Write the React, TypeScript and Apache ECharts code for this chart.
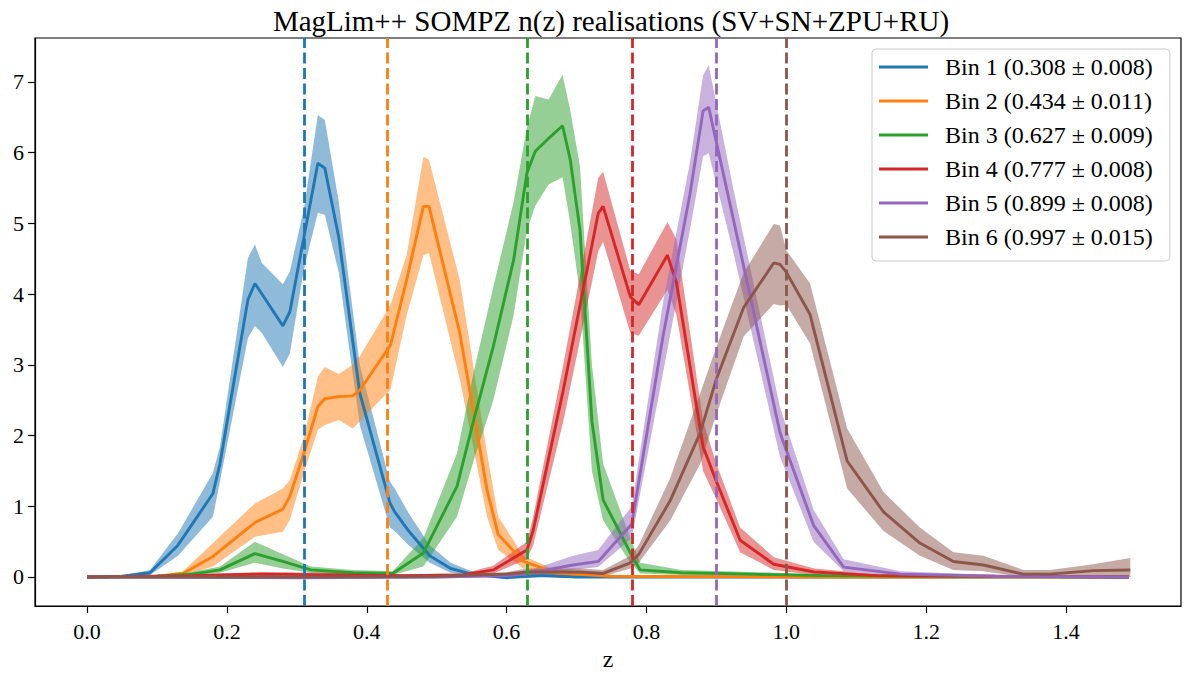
import React, { useEffect, useRef } from "react";
import * as echarts from "echarts";

const FONT = "'Liberation Serif', 'DejaVu Serif', serif";
const TITLE = "MagLim++ SOMPZ n(z) realisations (SV+SN+ZPU+RU)";

const binColors = ["#1f77b4", "#ff7f0e", "#2ca02c", "#d62728", "#9467bd", "#8c564b"];
const binMeans = [0.308, 0.434, 0.627, 0.777, 0.899, 0.997];
const binErrs = [0.008, 0.011, 0.009, 0.008, 0.008, 0.015];

const xTicks = [0, 0.2, 0.4, 0.6, 0.8, 1.0, 1.2, 1.4];
const yTicks = [0, 1, 2, 3, 4, 5, 6, 7];

// Bin 1
const bin1Z = [0, 0.05, 0.09, 0.13, 0.18, 0.19, 0.23, 0.24, 0.25, 0.28, 0.29, 0.31, 0.33, 0.34, 0.36, 0.39, 0.433, 0.44, 0.46, 0.49, 0.52, 0.55, 0.60, 0.65, 0.70, 1.00, 1.49];
const bin1Mean = [0, 0.01, 0.06, 0.45, 1.18, 1.60, 3.92, 4.15, 4.00, 3.55, 3.75, 4.80, 5.85, 5.78, 4.80, 2.60, 1.05, 0.92, 0.65, 0.30, 0.12, 0.04, -0.01, 0.02, 0.00, 0.00, 0.00];
const bin1Hi = [0, 0.02, 0.10, 0.62, 1.47, 1.84, 4.51, 4.70, 4.44, 4.14, 4.32, 5.20, 6.53, 6.46, 5.30, 3.00, 1.35, 1.25, 0.90, 0.45, 0.20, 0.08, 0.03, 0.05, 0.02, 0.01, 0.01];
const bin1Lo = [0, 0.00, 0.03, 0.30, 0.85, 1.35, 3.38, 3.55, 3.45, 2.97, 3.16, 4.35, 5.15, 5.12, 4.30, 2.15, 0.70, 0.65, 0.45, 0.20, 0.06, 0.01, -0.02, 0.00, -0.01, -0.01, -0.01];

// Bin 2
const bin2Z = [0, 0.10, 0.137, 0.18, 0.24, 0.28, 0.29, 0.31, 0.33, 0.34, 0.36, 0.38, 0.39, 0.434, 0.457, 0.481, 0.489, 0.533, 0.572, 0.588, 0.624, 0.67, 0.75, 1.00, 1.49];
const bin2Mean = [0, 0.01, 0.05, 0.29, 0.77, 0.96, 1.14, 1.75, 2.41, 2.52, 2.55, 2.56, 2.64, 3.28, 4.20, 5.24, 5.24, 3.45, 1.23, 0.60, 0.22, 0.06, 0.01, 0.00, 0.00];
const bin2Hi = [0, 0.02, 0.08, 0.48, 1.04, 1.25, 1.37, 1.98, 2.83, 2.97, 2.87, 3.00, 3.12, 3.85, 4.55, 5.94, 5.90, 4.20, 1.75, 0.85, 0.30, 0.10, 0.03, 0.01, 0.01];
const bin2Lo = [0, 0.00, 0.02, 0.15, 0.57, 0.64, 0.81, 1.47, 2.08, 2.15, 2.22, 2.10, 2.20, 2.65, 3.70, 4.55, 4.58, 2.80, 0.85, 0.38, 0.12, 0.02, 0.00, -0.01, -0.01];

// Bin 3
const bin3Z = [0, 0.10, 0.15, 0.19, 0.24, 0.28, 0.32, 0.38, 0.437, 0.481, 0.529, 0.553, 0.581, 0.61, 0.629, 0.641, 0.66, 0.68, 0.691, 0.705, 0.722, 0.738, 0.777, 0.791, 0.85, 0.95, 1.05, 1.20, 1.49];
const bin3Mean = [0, 0.01, 0.04, 0.10, 0.33, 0.22, 0.10, 0.06, 0.05, 0.34, 1.28, 2.22, 3.26, 4.48, 5.71, 6.02, 6.20, 6.38, 5.90, 4.90, 2.20, 1.09, 0.34, 0.10, 0.06, 0.04, 0.02, 0.01, 0.00];
const bin3Hi = [0, 0.02, 0.07, 0.15, 0.50, 0.32, 0.15, 0.10, 0.08, 0.55, 1.75, 2.90, 4.10, 5.30, 6.35, 6.80, 6.75, 7.10, 6.60, 5.80, 3.00, 1.60, 0.55, 0.20, 0.10, 0.07, 0.04, 0.02, 0.01];
const bin3Lo = [0, 0.00, 0.02, 0.06, 0.20, 0.12, 0.06, 0.03, 0.03, 0.15, 0.85, 1.65, 2.50, 3.70, 4.90, 5.25, 5.55, 5.65, 5.00, 4.00, 1.50, 0.80, 0.20, 0.05, 0.03, 0.02, 0.01, 0.00, -0.01];

// Bin 4
const bin4Z = [0, 0.15, 0.25, 0.35, 0.45, 0.538, 0.581, 0.629, 0.638, 0.681, 0.731, 0.738, 0.777, 0.789, 0.83, 0.843, 0.881, 0.90, 0.934, 0.982, 1.04, 1.13, 1.30, 1.49];
const bin4Mean = [0, 0.02, 0.04, 0.03, 0.02, 0.03, 0.10, 0.38, 0.66, 2.64, 5.14, 5.24, 3.96, 3.85, 4.55, 4.16, 1.84, 1.35, 0.52, 0.18, 0.07, 0.02, 0.01, 0.00];
const bin4Hi = [0, 0.04, 0.07, 0.06, 0.04, 0.05, 0.16, 0.50, 0.85, 3.00, 5.64, 5.73, 4.33, 4.28, 5.02, 4.77, 2.20, 1.60, 0.70, 0.28, 0.12, 0.04, 0.02, 0.01];
const bin4Lo = [0, 0.00, 0.01, 0.01, 0.00, 0.01, 0.05, 0.25, 0.45, 2.20, 4.60, 4.74, 3.45, 3.41, 4.06, 3.70, 1.50, 1.10, 0.35, 0.10, 0.03, 0.00, 0.00, -0.01];

// Bin 5
const bin5Z = [0, 0.30, 0.50, 0.60, 0.629, 0.695, 0.731, 0.779, 0.824, 0.862, 0.881, 0.889, 0.924, 0.991, 1.039, 1.082, 1.163, 1.30, 1.49];
const bin5Mean = [0, -0.01, 0.00, 0.02, 0.05, 0.17, 0.22, 0.75, 3.42, 5.40, 6.59, 6.64, 5.07, 2.04, 0.73, 0.14, 0.04, 0.01, 0.00];
const bin5Hi = [0, 0.01, 0.02, 0.05, 0.08, 0.30, 0.38, 1.00, 3.90, 5.85, 7.09, 7.24, 5.50, 2.40, 0.95, 0.25, 0.08, 0.03, 0.01];
const bin5Lo = [0, -0.03, -0.02, 0.00, 0.00, 0.10, 0.14, 0.55, 2.90, 4.90, 5.95, 5.99, 4.60, 1.70, 0.50, 0.08, 0.01, 0.00, -0.01];

// Bin 6
const bin6Z = [0, 0.30, 0.50, 0.60, 0.629, 0.705, 0.738, 0.777, 0.789, 0.834, 0.877, 0.90, 0.939, 0.982, 0.991, 1.00, 1.034, 1.087, 1.139, 1.191, 1.239, 1.282, 1.339, 1.377, 1.439, 1.492];
const bin6Mean = [0, 0.00, 0.01, 0.04, 0.07, 0.07, 0.05, 0.20, 0.32, 1.08, 2.04, 2.80, 3.81, 4.44, 4.42, 4.31, 3.71, 1.64, 0.92, 0.48, 0.22, 0.17, 0.04, 0.04, 0.09, 0.10];
const bin6Hi = [0, 0.02, 0.03, 0.07, 0.12, 0.12, 0.10, 0.30, 0.45, 1.40, 2.60, 3.25, 4.30, 4.99, 4.97, 4.62, 4.15, 2.10, 1.20, 0.70, 0.35, 0.30, 0.10, 0.10, 0.18, 0.27];
const bin6Lo = [0, -0.02, -0.01, 0.01, 0.03, 0.03, 0.01, 0.12, 0.20, 0.80, 1.60, 2.30, 3.40, 3.86, 3.84, 3.85, 3.30, 1.25, 0.65, 0.30, 0.10, 0.08, 0.00, 0.01, 0.03, 0.00];

const bins = [
  { z: bin1Z, mean: bin1Mean, hi: bin1Hi, lo: bin1Lo },
  { z: bin2Z, mean: bin2Mean, hi: bin2Hi, lo: bin2Lo },
  { z: bin3Z, mean: bin3Mean, hi: bin3Hi, lo: bin3Lo },
  { z: bin4Z, mean: bin4Mean, hi: bin4Hi, lo: bin4Lo },
  { z: bin5Z, mean: bin5Mean, hi: bin5Hi, lo: bin5Lo },
  { z: bin6Z, mean: bin6Mean, hi: bin6Hi, lo: bin6Lo },
];

function hexToRgba(hex: string, a: number) {
  const n = parseInt(hex.slice(1), 16);
  return `rgba(${(n >> 16) & 255},${(n >> 8) & 255},${n & 255},${a})`;
}

function buildOption() {
  const names = binMeans.map(
    (m, i) => `Bin ${i + 1} (${m.toFixed(3)} ± ${binErrs[i].toFixed(3)})`
  );
  const series: any[] = [];
  bins.forEach((b, i) => {
    const color = binColors[i];
    series.push({
      type: "custom",
      name: `band${i + 1}`,
      coordinateSystem: "cartesian2d",
      clip: true,
      silent: true,
      encode: { x: 0, y: [1, 2] },
      data: b.z.map((zz, k) => [zz, b.hi[k], b.lo[k]]),
      renderItem: (params: any, api: any) => {
        if (params.dataIndex !== 0) return null;
        const pts: number[][] = [];
        for (let k = 0; k < b.z.length; k++) pts.push(api.coord([b.z[k], b.hi[k]]));
        for (let k = b.z.length - 1; k >= 0; k--) pts.push(api.coord([b.z[k], b.lo[k]]));
        return {
          type: "polygon",
          shape: { points: pts },
          style: { fill: hexToRgba(color, 0.5), stroke: "none" },
        };
      },
    });
    series.push({
      type: "line",
      name: names[i],
      data: b.z.map((zz, k) => [zz, b.mean[k]]),
      showSymbol: false,
      symbol: "none",
      silent: true,
      lineStyle: { color, width: 2.9 },
      itemStyle: { color },
      markLine: {
        silent: true,
        symbol: ["none", "none"],
        label: { show: false },
        emphasis: { disabled: true },
        lineStyle: { color, width: 2.8, type: [11, 4.5], opacity: 1 },
        data: [{ xAxis: binMeans[i] }],
      },
    });
  });

  const tickLabelStyle = { fontFamily: FONT, fontSize: 22, color: "#000" };

  return {
    animation: false,
    backgroundColor: "#ffffff",
    title: {
      text: TITLE,
      left: 606,
      top: 1,
      textAlign: "center",
      textStyle: { fontFamily: FONT, fontSize: 29, fontWeight: "normal", color: "#000" },
    },
    legend: {
      orient: "vertical",
      left: 872,
      top: 49,
      data: names,
      selectedMode: false,
      icon: "rect",
      itemWidth: 49,
      itemHeight: 3,
      itemGap: 10,
      padding: [6, 17, 12, 7],
      backgroundColor: "rgba(255,255,255,0.8)",
      borderColor: "#cccccc",
      borderWidth: 1,
      borderRadius: 4,
      textStyle: {
        fontFamily: FONT,
        fontSize: 24,
        color: "#000",
        lineHeight: 24,
        padding: [0, 0, 0, 12],
      },
    },
    grid: {
      left: 35,
      right: 3,
      top: 38,
      bottom: 67,
      show: true,
      borderColor: "#000",
      borderWidth: 1.2,
      backgroundColor: "transparent",
      outerBoundsMode: "none",
    },
    xAxis: {
      type: "value",
      min: -0.0745,
      max: 1.5645,
      name: "z",
      nameLocation: "middle",
      nameGap: 40,
      nameTextStyle: { fontFamily: FONT, fontSize: 24, color: "#000" },
      axisLine: { show: true, onZero: false, lineStyle: { color: "#000", width: 1.2 } },
      axisTick: { show: true, inside: false, length: 7, customValues: xTicks, lineStyle: { color: "#000", width: 1.2 } },
      axisLabel: { ...tickLabelStyle, margin: 14, customValues: xTicks, formatter: (v: number) => v.toFixed(1) },
      splitLine: { show: false },
    },
    yAxis: {
      type: "value",
      min: -0.41,
      max: 7.62,
      axisLine: { show: true, onZero: false, lineStyle: { color: "#000", width: 1.2 } },
      axisTick: { show: true, inside: false, length: 7, customValues: yTicks, lineStyle: { color: "#000", width: 1.2 } },
      axisLabel: { ...tickLabelStyle, margin: 11, customValues: yTicks, formatter: (v: number) => String(Math.round(v)) },
      splitLine: { show: false },
    },
    series,
  };
}

export default function App() {
  const ref = useRef<HTMLDivElement>(null);
  useEffect(() => {
    if (!ref.current) return;
    const chart = echarts.init(ref.current, undefined, { renderer: "svg" });
    chart.setOption(buildOption() as any);
    return () => chart.dispose();
  }, []);
  return (
    <div
      ref={ref}
      style={{ position: "fixed", left: 0, top: 0, width: 1184, height: 673, background: "#fff" }}
    />
  );
}
